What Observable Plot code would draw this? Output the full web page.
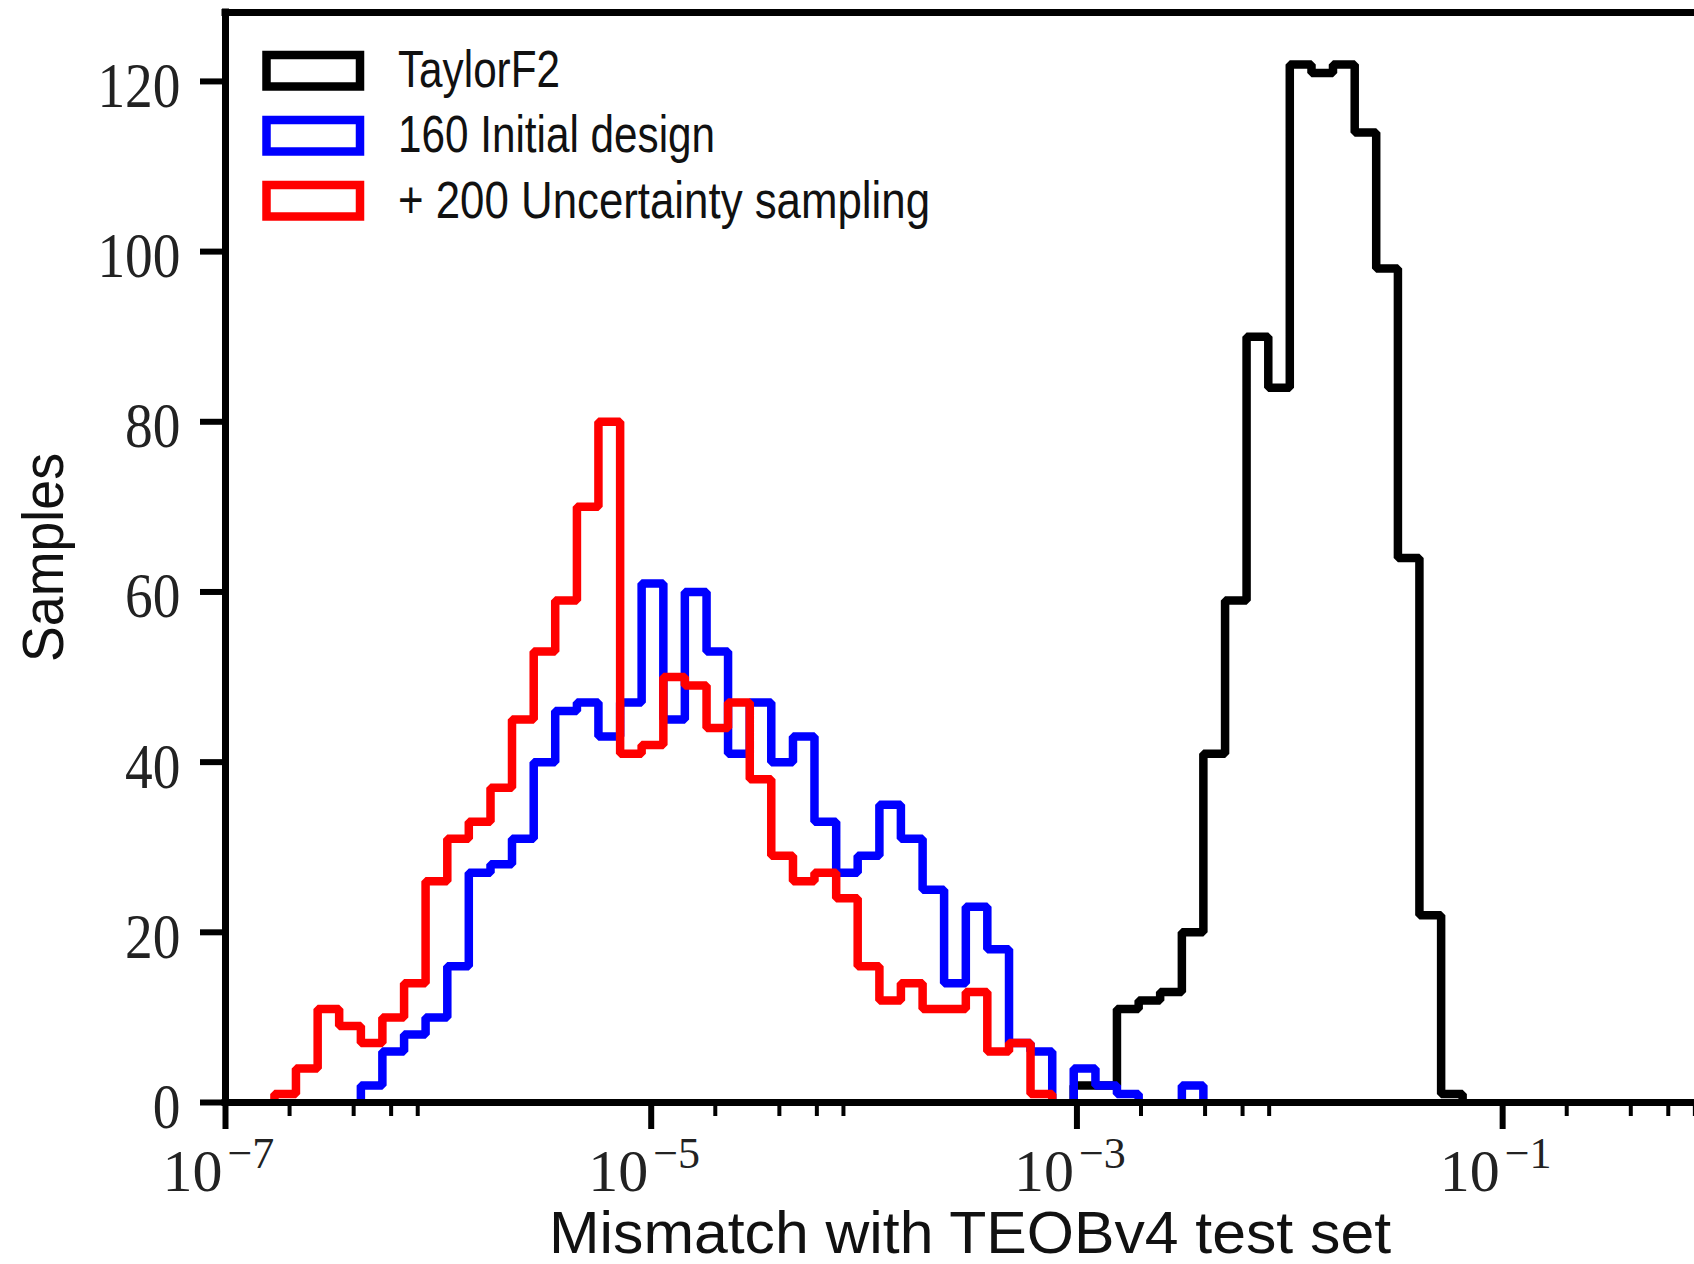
<!DOCTYPE html>
<html>
<head>
<meta charset="utf-8">
<script src="https://cdn.jsdelivr.net/npm/d3@7"></script>
<script src="https://cdn.jsdelivr.net/npm/@observablehq/plot@0.6"></script>
<style>
  html, body { margin: 0; padding: 0; background: #ffffff; overflow: hidden; }
  #chart { position: relative; width: 1694px; height: 1264px; }
</style>
</head>
<body>
<div id="chart"></div>
<script>
// ---- data ----
// log10 of the shared histogram bin edges (56 edges -> 55 bins)
const binEdgeExponents = [
  -6.770, -6.669, -6.567, -6.466, -6.364, -6.263, -6.161, -6.060, -5.958, -5.857,
  -5.755, -5.654, -5.552, -5.451, -5.349, -5.248, -5.146, -5.045, -4.943, -4.842,
  -4.740, -4.639, -4.537, -4.436, -4.334, -4.233, -4.131, -4.030, -3.928, -3.827,
  -3.725, -3.624, -3.522, -3.421, -3.319, -3.218, -3.116, -3.015, -2.913, -2.812,
  -2.710, -2.609, -2.507, -2.406, -2.304, -2.203, -2.101, -2.000, -1.898, -1.797,
  -1.695, -1.594, -1.492, -1.391, -1.289, -1.188
];
// counts per bin (55 bins)
const taylorF2Counts = [
  0,0,0,0,0,0,0,0,0,0, 0,0,0,0,0,0,0,0,0,0, 0,0,0,0,0,0,0,0,0,0, 0,0,0,0,0,0,0,
  2,2,11,12,13,20,41,59,90,84,122,121,122,114,98,64,22,1
];
const initialDesignCounts = [
  0,0,0,0,
  2,6,8,10,16,27,28,31,40,46,47,43,47,61,45,60,53,41,47,40,43,33,27,29,35,31,25,14,23,18,7,6,0,4,2,1,0,0,2,
  0,0,0,0,0,0,0,0,0,0,0,0
];
const uncertaintyCounts = [
  1,4,11,9,7,10,14,26,31,33,37,45,53,59,70,80,41,42,50,49,44,47,38,29,26,27,24,16,12,14,11,11,13,6,7,1,
  0,0,0,0,0,0,0,0,0,0,0,0,0,0,0,0,0,0,0
];
const seriesNames = ["TaylorF2", "160 Initial design", "+ 200 Uncertainty sampling"];
const seriesColors = ["#000000", "#0000ff", "#ff0000"];
const yTicks = [0, 20, 40, 60, 80, 100, 120];
const majorTickExponents = [-7, -5, -3, -1];
const minorTicks = [2e-7, 4e-7, 6e-7, 8e-7, 2e-5, 4e-5, 6e-5, 8e-5, 2e-3, 4e-3, 6e-3, 8e-3, 2e-1, 4e-1, 6e-1, 8e-1];
const xLabel = "Mismatch with TEOBv4 test set";
const yLabel = "Samples";
const yMax = 128.1;

// ---- build step outlines (matplotlib histtype="step"), one run per block of non-empty bins ----
function stepRuns(counts) {
  const pts = [];
  let run = -1, i = 0;
  while (i < counts.length) {
    if (counts[i] > 0) {
      run++;
      pts.push({x: 10 ** binEdgeExponents[i], y: 0, run});
      while (i < counts.length && counts[i] > 0) {
        pts.push({x: 10 ** binEdgeExponents[i], y: counts[i], run});
        i++;
      }
      pts.push({x: 10 ** binEdgeExponents[i], y: 0, run});
    } else {
      i++;
    }
  }
  return pts;
}
const seriesCounts = [taylorF2Counts, initialDesignCounts, uncertaintyCounts];
const majorTicks = majorTickExponents.map(e => 10 ** e);

const lineMarks = seriesCounts.map((counts, i) =>
  Plot.line(stepRuns(counts), {
    x: "x", y: "y", z: "run", curve: "step-after",
    stroke: seriesColors[i], strokeWidth: 8.5,
    strokeLinejoin: "miter", strokeLinecap: "butt"
  })
);

const plot = Plot.plot({
  width: 1694,
  height: 1264,
  marginLeft: 225,
  marginRight: 0,
  marginTop: 12,
  marginBottom: 162,
  x: {type: "log", domain: [1e-7, 1], range: [225, 1715]},
  y: {domain: [0, yMax]},
  style: {background: "white", fontFamily: "Liberation Serif", color: "black"},
  marks: [
    ...lineMarks,
    // spines
    Plot.ruleY([0], {stroke: "black", strokeWidth: 7, insetLeft: -3.5}),
    Plot.ruleY([yMax], {stroke: "black", strokeWidth: 7, insetLeft: -3.5}),
    Plot.ruleX([1e-7], {stroke: "black", strokeWidth: 7, insetTop: -3.5, insetBottom: -3.5}),
    // ticks
    Plot.axisY({ticks: yTicks, tickSize: 25, strokeWidth: 6, tickFormat: () => "", label: null}),
    Plot.axisX({ticks: majorTicks, tickSize: 27, strokeWidth: 6, tickFormat: () => "", label: null}),
    Plot.axisX({ticks: minorTicks, tickSize: 14, strokeWidth: 4, tickFormat: () => "", label: null}),
    // tick labels
    Plot.text(yTicks, {
      frameAnchor: "left", y: d => d, text: d => String(d),
      textAnchor: "end", dx: -45, dy: 5, fontSize: 64, fontFamily: "Liberation Serif",
      fill: "#222", ariaDescription: "ytick-labels"
    }),
    Plot.text(majorTicks, {
      x: d => d, frameAnchor: "bottom", text: () => "10",
      textAnchor: "start", lineAnchor: "bottom", dx: -63, dy: 88,
      fontSize: 60, fontFamily: "Liberation Serif", fill: "#222", ariaDescription: "xtick-labels"
    }),
    // axis labels
    Plot.text([xLabel], {
      frameAnchor: "bottom", text: d => d, lineAnchor: "bottom", textAnchor: "middle",
      dx: 10, dy: 150, fontSize: 60, fontFamily: "Liberation Sans", fill: "#111",
      ariaDescription: "xlabel"
    }),
    Plot.text([yLabel], {
      frameAnchor: "left", text: d => d, rotate: -90, lineAnchor: "bottom", textAnchor: "middle",
      dx: -163, fontSize: 58, fontFamily: "Liberation Sans", fill: "#111",
      ariaDescription: "ylabel"
    })
  ]
});

document.getElementById("chart").appendChild(plot);

// ---- text width adjustments (condensed LaTeX-like look) ----
const svg = d3.select(plot);
svg.selectAll('g[aria-description="ytick-labels"] text')
  .attr("textLength", function() { return this.textContent.length * 27.7; })
  .attr("lengthAdjust", "spacingAndGlyphs");
// x tick labels: "10" with a raised exponent in the same text element
svg.selectAll('g[aria-description="xtick-labels"] text').each(function(_, idx) {
  const t = d3.select(this);
  const e = majorTickExponents[idx];
  t.text(null);
  t.append("tspan").text("10");
  t.append("tspan")
    .attr("dx", 5).attr("dy", -23).attr("font-size", 44)
    .text("\u2212" + String(-e));
});
svg.selectAll('g[aria-description="xlabel"] text')
  .attr("textLength", 842).attr("lengthAdjust", "spacingAndGlyphs");
svg.selectAll('g[aria-description="ylabel"] text')
  .attr("textLength", 209).attr("lengthAdjust", "spacingAndGlyphs");

// ---- legend (inside the axes, upper left) ----
const legendTextWidths = [162, 317, 532];
const legend = svg.append("g").attr("aria-label", "legend");
seriesNames.forEach((name, i) => {
  legend.append("rect")
    .attr("x", 266.5).attr("y", 55 + 65 * i)
    .attr("width", 93.5).attr("height", 31.5)
    .attr("fill", "none").attr("stroke", seriesColors[i]).attr("stroke-width", 8.5)
    .attr("stroke-linejoin", "miter");
  legend.append("text")
    .attr("x", 398).attr("y", 86.5 + 65.5 * i)
    .attr("text-anchor", "start")
    .attr("font-family", "Liberation Sans").attr("font-size", 52).attr("fill", "#111")
    .attr("textLength", legendTextWidths[i]).attr("lengthAdjust", "spacingAndGlyphs")
    .text(name);
});
</script>
</body>
</html>
